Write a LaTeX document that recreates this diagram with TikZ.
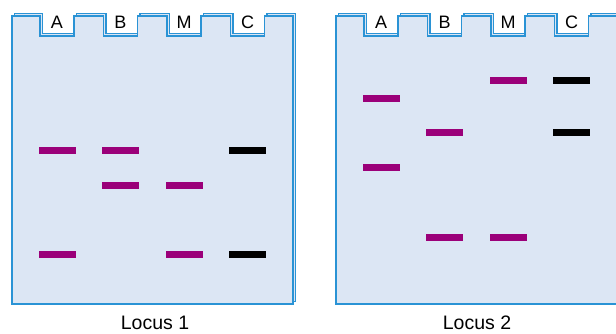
\documentclass[tikz,border=0pt]{standalone}
\usepackage{fontspec}
\setmainfont{Liberation Sans}
\definecolor{gelfill}{HTML}{DCE6F4}
\definecolor{gelline}{HTML}{2A93D5}
\definecolor{bandpurple}{HTML}{9B0079}
\tikzset{
  gel/.style={draw=gelline, fill=gelfill, line width=1.1pt, line join=miter},
  welllabel/.style={anchor=base, inner sep=0pt, font=\fontsize{18}{18}\selectfont},
  locuslabel/.style={anchor=base, inner sep=0pt, font=\fontsize{19.5}{20}\selectfont},
  bandm/.style={fill=bandpurple, inner sep=0pt, minimum width=37pt, minimum height=7pt},
  bandk/.style={bandm, fill=black}
}
\begin{document}
\begin{tikzpicture}[x=1pt,y=-1pt]
    \useasboundingbox (0,0) rectangle (616,333);

    % Контур геля (#1 -- левый край)
    \def\gel#1{(#1,304) -- (#1,16) -- ({#1+28},16) -- ({#1+28},36) -- ({#1+62},36) -- ({#1+62},16)
      -- ({#1+91.5},16) -- ({#1+91.5},36) -- ({#1+125.5},36) -- ({#1+125.5},16)
      -- ({#1+155},16) -- ({#1+155},36) -- ({#1+189},36) -- ({#1+189},16)
      -- ({#1+218.5},16) -- ({#1+218.5},36) -- ({#1+252.5},36) -- ({#1+252.5},16)
      -- ({#1+281},16) -- ({#1+281},304) -- cycle}

    % Гели (задняя грань, затем передняя)
    \begin{scope}[shift={(2.5,-2.5)}]
        \draw[gel] \gel{12};
        \draw[gel] \gel{336};
    \end{scope}
    \draw[gel] \gel{12};
    \draw[gel] \gel{336};

    % Подписи лунок
    \node[welllabel] (wA1) at (57,28.5) {A};
    \node[welllabel] (wB1) at (120.5,28.5) {B};
    \node[welllabel] (wM1) at (184,28.5) {M};
    \node[welllabel] (wC1) at (247.5,28.5) {C};
    \node[welllabel] (wA2) at (381,28.5) {A};
    \node[welllabel] (wB2) at (444.5,28.5) {B};
    \node[welllabel] (wM2) at (508,28.5) {M};
    \node[welllabel] (wC2) at (571.5,28.5) {C};

    % Полосы, локус 1
    \node[bandm] (a1top) at (57,150) {};
    \node[bandm] (a1bot) at (57,254) {};
    \node[bandm] (b1top) at (120.5,150) {};
    \node[bandm] (b1bot) at (120.5,185) {};
    \node[bandm] (m1top) at (184,185) {};
    \node[bandm] (m1bot) at (184,254) {};
    \node[bandk] (c1top) at (247.5,150) {};
    \node[bandk] (c1bot) at (247.5,254) {};

    % Полосы, локус 2
    \node[bandm] (a2top) at (381,98) {};
    \node[bandm] (a2bot) at (381,167) {};
    \node[bandm] (b2top) at (444.5,132) {};
    \node[bandm] (b2bot) at (444.5,237) {};
    \node[bandm] (m2top) at (508,80) {};
    \node[bandm] (m2bot) at (508,237) {};
    \node[bandk] (c2top) at (571.5,80) {};
    \node[bandk] (c2bot) at (571.5,132) {};

    % Подписи локусов
    \node[locuslabel] (locus1) at (155,329.5) {Locus 1};
    \node[locuslabel] (locus2) at (477,329.5) {Locus 2};

\end{tikzpicture}
\end{document}
